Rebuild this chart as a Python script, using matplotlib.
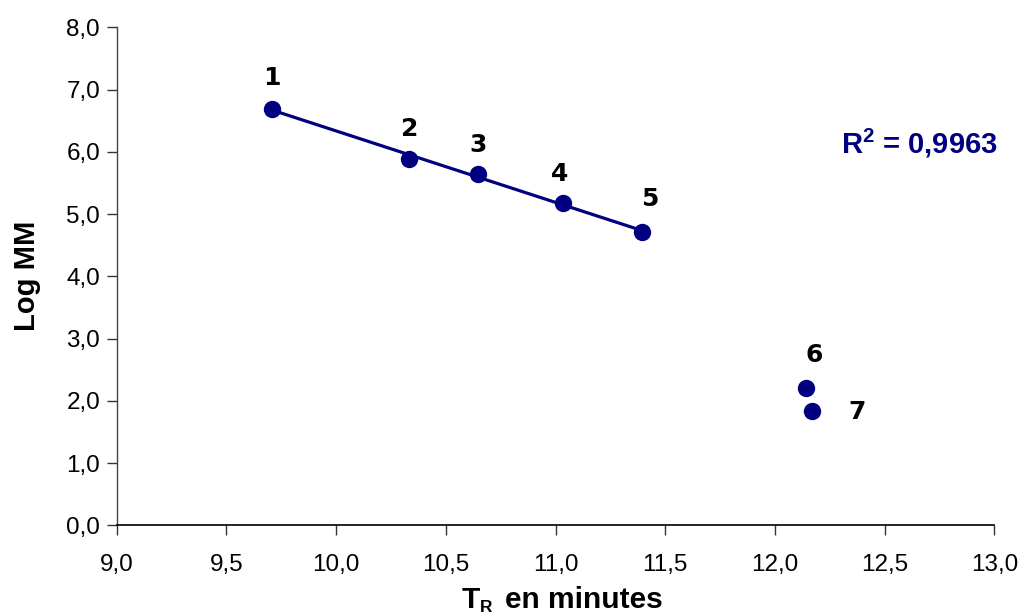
import numpy as np
import matplotlib
matplotlib.use("Agg")
import matplotlib.pyplot as plt
from matplotlib.ticker import FuncFormatter, MultipleLocator

plt.rcParams['font.family'] = ['Liberation Sans', 'DejaVu Sans']
plt.rcParams['mathtext.fontset'] = 'custom'
plt.rcParams['mathtext.rm'] = 'Liberation Sans'
plt.rcParams['mathtext.bf'] = 'Liberation Sans:bold'

# Data
labels = ['1', '2', '3', '4', '5', '6', '7']
tr_minutes = [9.706, 10.334, 10.645, 11.036, 11.393, 12.14, 12.17]
log_mm = [6.69, 5.88, 5.64, 5.18, 4.71, 2.20, 1.84]
fit_count = 5
r2_text = 'R$^{\\mathbf{2}}$ = 0,9963'

# label offsets in points (dx, dy)
label_offsets = [(0, 22), (0, 22), (0, 21), (-3, 21), (6, 24), (6, 24), (32, -1)]

navy = '#000080'
W, H = 1029, 613

fig = plt.figure(figsize=(10.29, 6.13), dpi=100)
ax = fig.add_axes([0.1134, 0.1431, 0.9663 - 0.1134, 0.9555 - 0.1431])

x = np.array(tr_minutes)
y = np.array(log_mm)
slope, intercept = np.polyfit(x[:fit_count], y[:fit_count], 1)
xf = np.array([x[:fit_count].min(), x[:fit_count].max()])
ax.plot(xf, slope * xf + intercept, color=navy, lw=2.3, zorder=2)
ax.plot(x, y, 'o', color=navy, ms=11.5, zorder=3)

for lab, xi, yi, off in zip(labels, x, y, label_offsets):
    ax.annotate(lab, (xi, yi), xytext=off, textcoords='offset points',
                ha='center', va='center', fontsize=18, fontweight='bold',
                family='DejaVu Sans', color='black')

ax.text(12.66, 6.14, r2_text, ha='center', va='center', fontsize=21,
        fontweight='bold', color=navy)

ax.set_xlim(9.0, 13.0)
ax.set_ylim(0.0, 8.0)
ax.xaxis.set_major_locator(MultipleLocator(0.5))
ax.yaxis.set_major_locator(MultipleLocator(1.0))
fmt = FuncFormatter(lambda v, p: f"{v:.1f}".replace('.', ','))
ax.xaxis.set_major_formatter(fmt)
ax.yaxis.set_major_formatter(fmt)
ax.tick_params(axis='both', direction='out', length=7, width=1,
               labelsize=17.5, colors='#333333', labelcolor='black', pad=5)
ax.tick_params(axis='x', pad=14)

for s in ['top', 'right']:
    ax.spines[s].set_visible(False)
ax.spines['left'].set_color('#444444')
ax.spines['bottom'].set_color('black')
ax.spines['left'].set_linewidth(1)
ax.spines['bottom'].set_linewidth(1.2)

# x-axis title with subscript built from text pieces
fig.text(462 / W, 1 - 608 / H, 'T', fontsize=21.5, fontweight='bold',
         ha='left', va='baseline')
fig.text(480 / W, 1 - 611.5 / H, 'R', fontsize=12.5, fontweight='bold',
         ha='left', va='baseline')
fig.text(505 / W, 1 - 608 / H, 'en minutes', fontsize=21.5, fontweight='bold',
         ha='left', va='baseline')

ax.set_ylabel('Log MM', fontsize=21, fontweight='bold', labelpad=18)

fig.savefig('out.png', dpi=100)
